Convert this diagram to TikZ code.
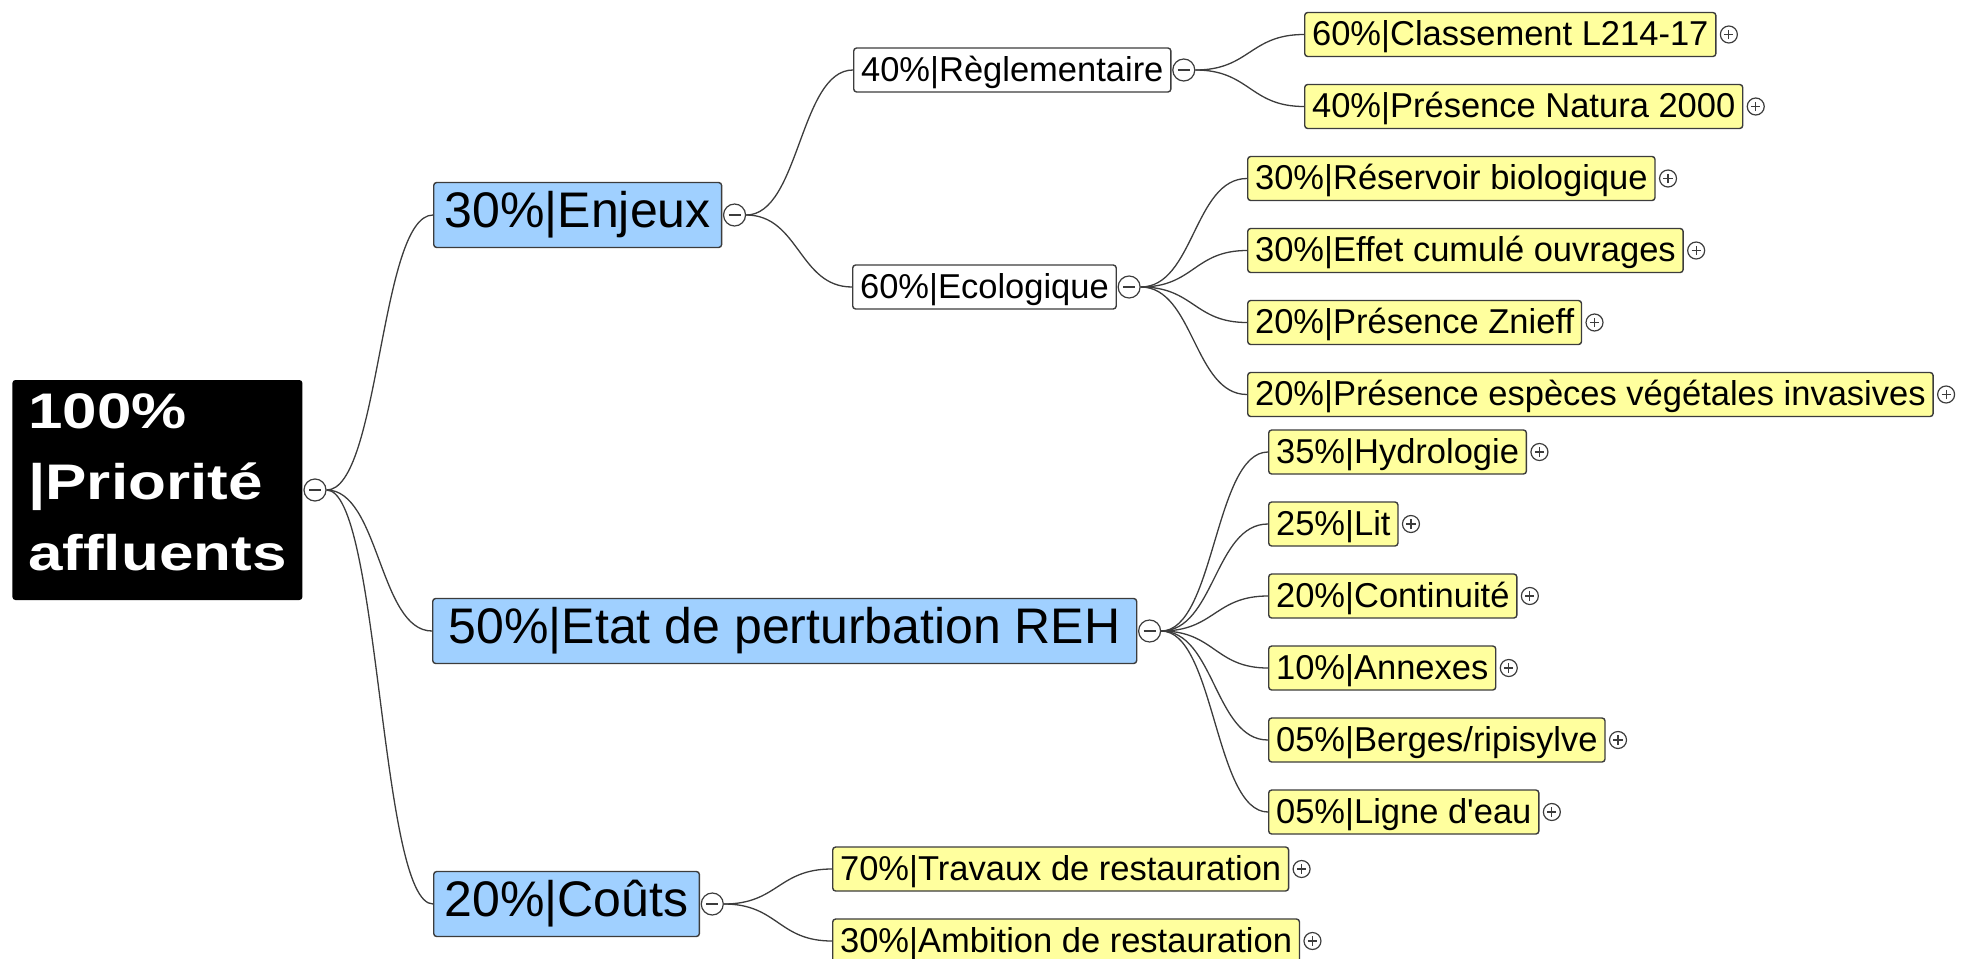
\documentclass[tikz,border=0pt]{standalone}
\usepackage{fontspec}
\setmainfont{Liberation Sans}
\newfontfamily\rootfont[FakeStretch=1.24]{Liberation Sans}
\usepackage{xcolor}
\usepackage{tikz}
\usetikzlibrary{positioning,calc}
\definecolor{topicblue}{RGB}{160,208,255}
\definecolor{topicyellow}{RGB}{255,255,158}
\definecolor{edgegray}{RGB}{60,60,60}
\tikzset{
  rootbox/.style={rectangle, rounded corners=1.5pt, fill=black, text=white, align=left, minimum width=145pt, minimum height=110pt, inner sep=0pt, font=\rootfont\bfseries\fontsize{25}{35.5}\selectfont},
  mainbox/.style={rectangle, rounded corners=1.5pt, draw=edgegray, line width=0.7pt, fill=topicblue, minimum height=32.5pt, inner xsep=5.5pt, inner ysep=3pt, text height=19.5pt, text depth=7pt, font=\fontsize{25}{30}\selectfont},
  subbox/.style={rectangle, rounded corners=1.5pt, draw=edgegray, line width=0.7pt, fill=white, minimum height=22pt, inner xsep=3.7pt, inner ysep=2.5pt, text height=14pt, text depth=3pt, font=\fontsize{17.25}{20}\selectfont},
  leafbox/.style={subbox, fill=topicyellow},
  toggle/.style={circle, draw=edgegray, line width=0.6pt, fill=white, inner sep=0pt},
  minus/.style={toggle, minimum size=11pt, path picture={\draw[line width=0.7pt] ([xshift=-3pt]path picture bounding box.center) -- ([xshift=3pt]path picture bounding box.center);}},
  plus/.style={toggle, minimum size=8.5pt, path picture={\draw[line width=0.6pt] ([xshift=-2.3pt]path picture bounding box.center) -- ([xshift=2.3pt]path picture bounding box.center) ([yshift=-2.3pt]path picture bounding box.center) -- ([yshift=2.3pt]path picture bounding box.center);}},
  branch/.style={draw=edgegray, line width=0.65pt, to path={let \p1=(\tikztostart), \p2=(\tikztotarget) in .. controls ({(\x1+\x2)/2},\y1) and ({(\x1+\x2)/2},\y2) .. (\tikztotarget)}}
}

\begin{document}
\begin{tikzpicture}[x=0.5pt, y=-0.5pt]
  \useasboundingbox (0,0) rectangle (1961,959);

  % Root and main topics
  \node (root) [rootbox, anchor=west] at (12,490) {100\%\\|Priorité\\affluents\rule[-8pt]{0pt}{8pt}};
  \node (enjeux) [mainbox, anchor=west] at (433,215) {30\%|Enjeux};
  \node (etat) [mainbox, minimum width=352pt, anchor=west] at (432,631) {50\%|Etat de perturbation REH};
  \node (couts) [mainbox, anchor=west] at (433,904) {20\%|Coûts};

  % Enjeux
  \node (regl) [subbox, anchor=west] at (853,70) {40\%|Règlementaire};
  \node (eco) [subbox, anchor=west] at (852,287) {60\%|Ecologique};
  \node (classement) [leafbox, anchor=west] at (1304,34.5) {60\%|Classement L214-17};
  \node (natura) [leafbox, below=36pt of classement.west, anchor=west] {40\%|Présence Natura 2000};
  \node (reservoir) [leafbox, anchor=west] at (1247,178.5) {30\%|Réservoir biologique};
  \node (effet) [leafbox, below=36pt of reservoir.west, anchor=west] {30\%|Effet cumulé ouvrages};
  \node (znieff) [leafbox, below=36pt of effet.west, anchor=west] {20\%|Présence Znieff};
  \node (invasives) [leafbox, below=36pt of znieff.west, anchor=west] {20\%|Présence espèces végétales invasives};

  % Etat de perturbation
  \node (hydro) [leafbox, anchor=west] at (1268,452) {35\%|Hydrologie};
  \node (lit) [leafbox, below=36pt of hydro.west, anchor=west] {25\%|Lit};
  \node (conti) [leafbox, below=36pt of lit.west, anchor=west] {20\%|Continuité};
  \node (annexes) [leafbox, below=36pt of conti.west, anchor=west] {10\%|Annexes};
  \node (berges) [leafbox, below=36pt of annexes.west, anchor=west] {05\%|Berges/ripisylve};
  \node (ligne) [leafbox, below=36pt of berges.west, anchor=west] {05\%|Ligne d\textquotesingle eau};

  % Couts
  \node (travaux) [leafbox, anchor=west] at (832,869) {70\%|Travaux de restauration};
  \node (ambition) [leafbox, below=36pt of travaux.west, anchor=west] {30\%|Ambition de restauration};

  % Toggles
  \foreach \n in {root,enjeux,etat,couts,regl,eco}
    \node (\n-t) [minus, right=0.3pt of \n] {};
  \foreach \n in {classement,natura,reservoir,effet,znieff,invasives,hydro,lit,conti,annexes,berges,ligne,travaux,ambition}
    \node (\n-t) [plus, right=1.6pt of \n] {};

  % Links
  \foreach \a/\b in {root/enjeux,root/etat,root/couts,enjeux/regl,enjeux/eco,regl/classement,regl/natura,eco/reservoir,eco/effet,eco/znieff,eco/invasives,etat/hydro,etat/lit,etat/conti,etat/annexes,etat/berges,etat/ligne,couts/travaux,couts/ambition}
    \draw [branch] (\a-t.east) to (\b.west);
\end{tikzpicture}
\end{document}
